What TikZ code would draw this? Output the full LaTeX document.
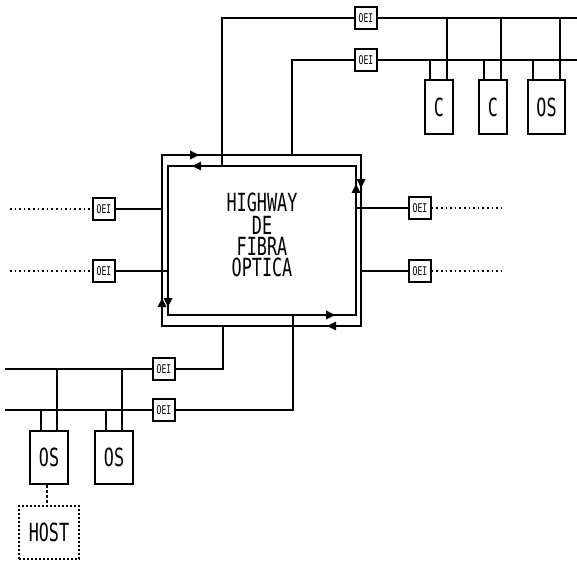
\documentclass[tikz,border=0pt]{standalone}
\usepackage{fontspec}
\newfontfamily\plotfont{DejaVu Sans Mono}
\usetikzlibrary{arrows.meta}
\newcommand\nar[1]{\scalebox{0.67}[1]{#1}}
\newcommand\tall[1]{\scalebox{0.84}[1.25]{#1}}
\begin{document}
\begin{tikzpicture}[x=1pt,y=-1pt,
  line/.style={line width=1.2pt},
  oei/.style={draw,line width=1.4pt,minimum width=22pt,minimum height=22pt,inner sep=0pt,fill=white,font=\plotfont\fontsize{12}{12}\selectfont},
  dev/.style={draw,line width=1.4pt,inner sep=0pt,font=\plotfont\fontsize{25}{25}\selectfont},
  big/.style={inner sep=0pt,anchor=north,text height=18.5pt,text depth=0pt,font=\plotfont\fontsize{20}{20}\selectfont},
  dots/.style={line width=1.6pt,dash pattern=on 1.6pt off 3pt},
  tip/.style={fill=black},
  ring/.style={line width=1.5pt}]
\useasboundingbox (0,0) rectangle (577,561);
% rings
\draw[ring] (162,155) rectangle (361,326);
\draw[ring] (168,166) rectangle (356,315);
\node[big] (hw1) at (262,193) {\tall{HIGHWAY}};
\node[big] (hw2) at (262,215.5) {\tall{DE}};
\node[big] (hw3) at (262,237) {\tall{FIBRA}};
\node[big] (hw4) at (262,257.5) {\tall{OPTICA}};
% ring arrows (filled triangles on the rings)
\fill[tip] (199,155) -- (190,150.5) -- (190,159.5) -- cycle;
\fill[tip] (192,166) -- (201,161.5) -- (201,170.5) -- cycle;
\fill[tip] (361,188) -- (356.5,179) -- (365.5,179) -- cycle;
\fill[tip] (356,184) -- (351.5,193) -- (360.5,193) -- cycle;
\fill[tip] (335,315) -- (326,310.5) -- (326,319.5) -- cycle;
\fill[tip] (327,326) -- (336,321.5) -- (336,330.5) -- cycle;
\fill[tip] (168,307) -- (163.5,298) -- (172.5,298) -- cycle;
\fill[tip] (162,298) -- (157.5,307) -- (166.5,307) -- cycle;
% top
\node[oei] (t1) at (366,18) {\nar{OEI}};
\node[oei] (t2) at (366,60) {\nar{OEI}};
\node[dev,minimum width=28pt,minimum height=54pt] (c1) at (439,107) {\nar{C}};
\node[dev,minimum width=28pt,minimum height=54pt] (c2) at (493,107) {\nar{C}};
\node[dev,minimum width=37pt,minimum height=54pt] (os) at (546.5,107) {\nar{OS}};
\coordinate (a1) at (222,166);
\coordinate (a2) at (292,155);
\coordinate (e1) at (577,18);
\coordinate (e2) at (577,60);
\draw[line] (a1) |- (t1.west);
\draw[line] (t1.east) -- (e1);
\draw[line] (a2) |- (t2.west);
\draw[line] (t2.east) -- (e2);
\draw[line] ([xshift=8pt]c1.north) -- ([xshift=8pt]c1.north |- t1);
\draw[line] ([xshift=-9pt]c1.north) -- ([xshift=-9pt]c1.north |- t2);
\draw[line] ([xshift=8pt]c2.north) -- ([xshift=8pt]c2.north |- t1);
\draw[line] ([xshift=-9pt]c2.north) -- ([xshift=-9pt]c2.north |- t2);
\draw[line] ([xshift=13.5pt]os.north) -- ([xshift=13.5pt]os.north |- t1);
\draw[line] ([xshift=-13.5pt]os.north) -- ([xshift=-13.5pt]os.north |- t2);
% left
\node[oei] (l1) at (104,209) {\nar{OEI}};
\node[oei] (l2) at (104,271) {\nar{OEI}};
\coordinate (g1) at (10,209);
\coordinate (g2) at (10,271);
\coordinate (h1) at (162,209);
\coordinate (h2) at (168,271);
\draw[dots] (g1) -- (l1.west);
\draw[dots] (g2) -- (l2.west);
\draw[line] (l1.east) -- (h1);
\draw[line] (l2.east) -- (h2);
% right
\node[oei] (r1) at (420,208) {\nar{OEI}};
\node[oei] (r2) at (420,271) {\nar{OEI}};
\coordinate (h3) at (356,208);
\coordinate (h4) at (361,271);
\coordinate (k1) at (505,208);
\coordinate (k2) at (505,271);
\draw[line] (h3) -- (r1.west);
\draw[line] (h4) -- (r2.west);
\draw[dots] (r1.east) -- (k1);
\draw[dots] (r2.east) -- (k2);
% bottom
\node[oei] (d1) at (164,369) {\nar{OEI}};
\node[oei] (d2) at (164,410) {\nar{OEI}};
\node[dev,minimum width=38pt,minimum height=53pt] (o1) at (49,457.5) {\nar{OS}};
\node[dev,minimum width=38pt,minimum height=53pt] (o2) at (114,457.5) {\nar{OS}};
\node[dev,dash pattern=on 2pt off 2pt,minimum width=60pt,minimum height=53pt] (host) at (49,532.5) {\nar{HOST}};
\coordinate (b1) at (223,326);
\coordinate (b2) at (293,315);
\coordinate (f1) at (5,369);
\coordinate (f2) at (5,410);
\draw[line] (b1) |- (d1.east);
\draw[line] (d1.west) -- (f1);
\draw[line] (b2) |- (d2.east);
\draw[line] (d2.west) -- (f2);
\draw[line] ([xshift=8pt]o1.north) -- ([xshift=8pt]o1.north |- d1);
\draw[line] ([xshift=-8pt]o1.north) -- ([xshift=-8pt]o1.north |- d2);
\draw[line] ([xshift=8pt]o2.north) -- ([xshift=8pt]o2.north |- d1);
\draw[line] ([xshift=-8pt]o2.north) -- ([xshift=-8pt]o2.north |- d2);
\draw[line,dash pattern=on 3pt off 2pt] ([xshift=-2pt]o1.south) -- ([xshift=-2pt]host.north);
\end{tikzpicture}
\end{document}
